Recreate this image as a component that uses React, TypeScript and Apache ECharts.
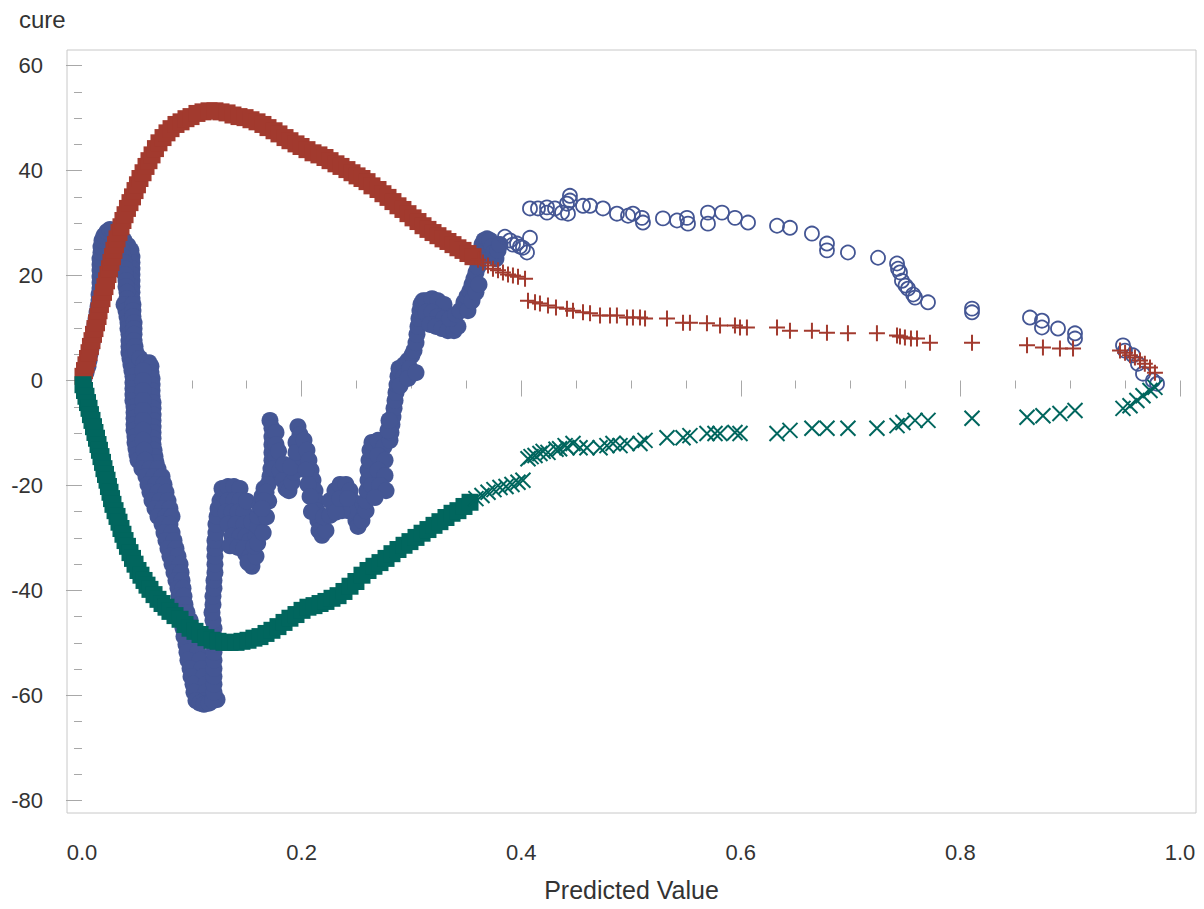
import React, { useEffect, useRef } from "react";
import * as echarts from "echarts";

// ---------- axis ticks ----------
const xMajorTicks = [0, 0.2, 0.4, 0.6, 0.8, 1.0];
const xMinorTicks = [0.05, 0.1, 0.15, 0.25, 0.3, 0.35, 0.45, 0.5, 0.55, 0.65, 0.7, 0.75, 0.85, 0.9, 0.95];
const yMajorTicks = [-80, -60, -40, -20, 0, 20, 40, 60];
const yMinorTicks = [-75, -70, -65, -55, -50, -45, -35, -30, -25, -15, -10, -5, 5, 10, 15, 25, 30, 35, 45, 50, 55];
const X_MIN = -0.01366;
const X_MAX = 1.0146;
const Y_MIN = -82.42;
const Y_MAX = 62.99;

// ---------- blue (observed cumulative residual), dense region ----------
const blueDense: number[][] = [
  [0.0018, 0.4], [0.0036, 1.5], [0.0055, 2.7], [0.0064, 3.8], [0.0073, 5.0], [0.0082, 6.1], [0.0091, 7.2],
  [0.0100, 8.4], [0.0109, 9.5], [0.0118, 10.7], [0.0128, 11.8], [0.0137, 13.0], [0.0146, 14.1], [0.0155, 15.2],
  [0.0155, 16.4], [0.0164, 17.5], [0.0164, 18.7], [0.0164, 19.8], [0.0164, 21.0], [0.0164, 22.1], [0.0164, 23.2],
  [0.0173, 24.4], [0.0173, 25.5], [0.0182, 26.7], [0.0200, 27.6], [0.0228, 28.4], [0.0255, 28.8], [0.0282, 28.6],
  [0.0310, 28.2], [0.0346, 27.4], [0.0383, 26.7], [0.0419, 25.7], [0.0446, 24.8], [0.0455, 23.6], [0.0455, 22.5],
  [0.0455, 21.3], [0.0455, 20.2], [0.0455, 19.0], [0.0455, 17.9], [0.0455, 16.8], [0.0455, 15.6],
  [0.0355, 25.9], [0.0364, 24.8], [0.0373, 23.6], [0.0383, 22.5], [0.0392, 21.3], [0.0392, 20.2], [0.0401, 19.0],
  [0.0401, 17.9], [0.0410, 16.8], [0.0410, 15.6],
  [0.0383, 14.5], [0.0401, 13.3], [0.0410, 12.2], [0.0419, 11.0], [0.0419, 9.9], [0.0428, 8.8], [0.0428, 7.6],
  [0.0428, 6.5], [0.0428, 5.3], [0.0437, 4.2], [0.0446, 3.0], [0.0455, 1.9], [0.0464, 0.8], [0.0464, -0.4],
  [0.0464, -1.5], [0.0464, -2.7], [0.0464, -3.8], [0.0474, -5.0], [0.0474, -6.1], [0.0474, -7.2], [0.0474, -8.4],
  [0.0474, -9.5], [0.0483, -10.7], [0.0483, -11.8], [0.0492, -13.0], [0.0501, -14.1], [0.0510, -15.2],
  [0.0464, 14.5], [0.0464, 13.3], [0.0464, 12.2], [0.0474, 11.0], [0.0474, 9.9], [0.0474, 8.8], [0.0474, 7.6],
  [0.0483, 6.5], [0.0492, 5.3], [0.0528, 4.2],
  [0.0565, 3.4], [0.0610, 3.4], [0.0628, 2.7], [0.0628, 1.5], [0.0638, 0.4], [0.0638, -0.8], [0.0638, -1.9],
  [0.0638, -3.0], [0.0647, -4.2], [0.0647, -5.3], [0.0647, -6.5], [0.0647, -7.6], [0.0647, -8.8], [0.0647, -9.9],
  [0.0647, -11.0], [0.0647, -12.2], [0.0656, -13.3], [0.0665, -14.5], [0.0674, -15.6],
  [0.0556, 1.9], [0.0556, 0.0], [0.0556, -1.9], [0.0556, -3.8], [0.0556, -5.7], [0.0556, -7.6], [0.0556, -9.5],
  [0.0556, -11.4], [0.0565, -13.3], [0.0574, -15.2],
  [0.0546, -16.8], [0.0619, -16.8], [0.0692, -16.8], [0.0583, -18.3], [0.0656, -18.3], [0.0729, -18.3],
  [0.0601, -19.8], [0.0674, -19.8], [0.0747, -19.8], [0.0619, -21.3], [0.0692, -21.3], [0.0765, -21.3],
  [0.0638, -22.9], [0.0710, -22.9], [0.0783, -22.9], [0.0665, -24.4], [0.0738, -24.4], [0.0801, -24.4],
  [0.0692, -25.9], [0.0765, -25.9], [0.0820, -25.9], [0.0729, -27.4], [0.0801, -27.4], [0.0747, -29.0],
  [0.0820, -29.0], [0.0765, -30.5], [0.0838, -30.5], [0.0783, -32.0], [0.0856, -32.0], [0.0801, -33.5],
  [0.0874, -33.5], [0.0820, -35.0], [0.0893, -35.0], [0.0838, -36.6], [0.0902, -36.6], [0.0856, -38.1],
  [0.0911, -38.1], [0.0874, -39.6], [0.0920, -39.6], [0.0883, -41.1], [0.0929, -41.1], [0.0893, -42.7],
  [0.0938, -42.7], [0.0902, -44.2], [0.0956, -44.2], [0.0911, -45.7], [0.0984, -45.7], [0.0920, -47.2],
  [0.1002, -47.2], [0.0929, -48.8], [0.1020, -48.8], [0.0947, -50.3], [0.1038, -50.3], [0.0956, -51.8],
  [0.1056, -51.8], [0.0965, -53.3], [0.1075, -53.3], [0.0984, -54.9], [0.1093, -54.9], [0.0993, -56.4],
  [0.1111, -56.4], [0.1011, -57.9], [0.1129, -57.9], [0.1020, -59.4], [0.1129, -59.4], [0.1038, -61.0],
  [0.1120, -61.0], [0.1075, -61.5], [0.1111, -61.7], [0.1157, -61.5], [0.1230, -60.8],
  [0.1193, -61.0], [0.1202, -59.4], [0.1202, -57.9], [0.1202, -56.4], [0.1202, -54.9], [0.1202, -53.3],
  [0.1202, -51.8], [0.1202, -50.3], [0.1202, -48.8], [0.1202, -47.2], [0.1193, -45.7], [0.1184, -44.2],
  [0.1193, -42.7], [0.1193, -41.1], [0.1202, -39.6], [0.1202, -38.1], [0.1211, -36.6], [0.1211, -35.0],
  [0.1211, -33.5], [0.1211, -32.0], [0.1211, -30.5], [0.1220, -29.0], [0.1220, -27.4], [0.1230, -25.9],
  [0.1239, -24.4], [0.1257, -22.9], [0.1284, -21.7],
  [0.1275, -20.6], [0.1330, -20.2], [0.1384, -20.2], [0.1439, -20.6], [0.1330, -22.9], [0.1384, -22.9],
  [0.1439, -22.9], [0.1311, -25.1], [0.1366, -25.1], [0.1421, -25.1], [0.1475, -25.1], [0.1330, -27.4],
  [0.1403, -27.4], [0.1475, -27.4], [0.1366, -29.7], [0.1439, -29.7], [0.1494, -29.7],
  [0.1348, -31.5], [0.1420, -31.8], [0.1490, -33.0], [0.1530, -30.5], [0.1545, -27.0], [0.1500, -23.0],
  [0.1475, -32.0], [0.1530, -33.5], [0.1548, -35.4], [0.1512, -34.7], [0.1585, -33.5], [0.1566, -31.6],
  [0.1585, -29.7], [0.1603, -27.8], [0.1603, -25.9], [0.1621, -24.0], [0.1639, -22.1], [0.1658, -20.6],
  [0.1600, -31.0], [0.1650, -29.0], [0.1680, -26.0], [0.1700, -23.0],
  [0.1712, -7.6], [0.1730, -9.1], [0.1730, -10.7], [0.1730, -12.2], [0.1730, -13.7], [0.1730, -15.2],
  [0.1721, -16.8], [0.1712, -18.3], [0.1694, -19.8], [0.1676, -21.3], [0.1658, -22.9], [0.1639, -24.4],
  [0.1767, -9.9], [0.1767, -12.2], [0.1767, -14.5], [0.1749, -16.8],
  [0.1803, -17.1], [0.1831, -19.0], [0.1858, -20.6], [0.1885, -21.0], [0.1913, -19.4], [0.1931, -17.5],
  [0.1949, -15.6], [0.1790, -13.5], [0.1840, -16.0], [0.1900, -16.5],
  [0.1967, -8.8], [0.1985, -10.3], [0.1995, -11.8], [0.2004, -13.3], [0.2013, -14.9], [0.1949, -11.8],
  [0.1949, -13.7], [0.2022, -11.4], [0.2049, -13.3], [0.2067, -15.2], [0.2086, -17.1], [0.2104, -19.0],
  [0.2122, -21.0], [0.2131, -22.9], [0.2140, -24.8], [0.2149, -26.7], [0.2158, -28.6], [0.2186, -29.5],
  [0.2222, -28.6], [0.2040, -17.1], [0.2058, -19.8], [0.2077, -22.1], [0.2090, -25.0], [0.2200, -26.0],
  [0.2259, -25.7], [0.2259, -22.9], [0.2304, -21.0], [0.2350, -19.8], [0.2404, -19.8], [0.2441, -21.0],
  [0.2459, -22.9], [0.2477, -24.8], [0.2495, -26.7], [0.2514, -27.8], [0.2423, -24.8], [0.2368, -24.8],
  [0.2313, -25.1], [0.2550, -26.7], [0.2587, -24.8], [0.2350, -22.5], [0.2420, -22.5],
  [0.2587, -22.9], [0.2596, -21.0], [0.2605, -19.0], [0.2605, -17.1], [0.2614, -15.2], [0.2623, -13.3],
  [0.2641, -11.8], [0.2696, -11.4], [0.2750, -12.6], [0.2696, -14.3], [0.2760, -15.2], [0.2696, -17.1],
  [0.2760, -18.1], [0.2641, -20.0], [0.2714, -20.0], [0.2769, -21.0], [0.2668, -22.3],
  [0.2805, -11.4], [0.2814, -9.9], [0.2823, -8.4], [0.2832, -6.9], [0.2842, -5.3], [0.2851, -3.8],
  [0.2860, -2.3], [0.2869, -0.8], [0.2878, 0.8], [0.2887, 2.3], [0.2787, -9.5], [0.2796, -7.6],
  [0.2896, 1.9], [0.2933, 3.0], [0.2969, 3.8], [0.3005, 4.8], [0.2933, 0.8], [0.2987, 2.3],
  [0.2896, -1.0], [0.2969, 0.4], [0.3042, 1.5],
  [0.3024, 5.7], [0.3042, 7.2], [0.3051, 8.8], [0.3060, 10.3], [0.3069, 11.8], [0.3078, 13.3], [0.3087, 14.5],
  [0.3106, 15.2], [0.3133, 15.2], [0.3188, 15.6], [0.3242, 15.2], [0.3297, 14.5], [0.3133, 13.0],
  [0.3188, 13.0], [0.3242, 12.2], [0.3297, 11.8], [0.3169, 10.7], [0.3224, 10.3], [0.3279, 9.9],
  [0.3333, 9.5], [0.3388, 9.5], [0.3424, 10.3], [0.3352, 11.8], [0.3406, 12.6],
  [0.3443, 13.3], [0.3479, 14.9], [0.3506, 16.0], [0.3534, 17.1], [0.3552, 18.3], [0.3570, 19.4],
  [0.3588, 20.6], [0.3607, 21.7], [0.3515, 13.3], [0.3552, 15.2], [0.3588, 16.8], [0.3616, 18.3],
  [0.3625, 23.2], [0.3634, 24.8], [0.3643, 25.9], [0.3661, 26.7], [0.3689, 27.0], [0.3716, 26.7],
  [0.3734, 25.5], [0.3752, 24.4], [0.3770, 23.2], [0.3789, 24.8], [0.3807, 25.9],
];

// ---------- blue, sparse region (hollow circles) ----------
const blueSparse: number[][] = [
  [0.3852, 27.4], [0.3898, 26.7], [0.3925, 25.9], [0.3962, 26.1], [0.3989, 25.5], [0.4016, 25.3],
  [0.4053, 24.4], [0.4080, 27.2],
  [0.4080, 32.8], [0.4153, 32.8], [0.4235, 33.0], [0.4235, 32.0], [0.4308, 32.8], [0.4372, 32.0],
  [0.4417, 33.7], [0.4444, 35.2], [0.4444, 34.3], [0.4426, 31.8], [0.4563, 33.3], [0.4627, 33.3],
  [0.4745, 32.8], [0.4872, 31.8], [0.4973, 31.4], [0.5018, 31.8], [0.5100, 31.0], [0.5109, 30.1],
  [0.5291, 30.9], [0.5419, 30.5], [0.5510, 31.0], [0.5519, 29.9], [0.5701, 32.0], [0.5701, 29.9],
  [0.5829, 32.0], [0.5947, 31.0], [0.6066, 30.1], [0.6330, 29.5], [0.6448, 29.1], [0.6648, 28.0],
  [0.6785, 26.1], [0.6785, 24.8], [0.6976, 24.4], [0.7250, 23.4], [0.7423, 22.3], [0.7432, 21.3],
  [0.7450, 20.6], [0.7468, 19.0], [0.7500, 18.1], [0.7523, 17.5], [0.7570, 16.4], [0.7587, 15.8],
  [0.7705, 14.9], [0.8106, 13.7], [0.8106, 13.0], [0.8634, 12.0], [0.8743, 11.4], [0.8743, 10.1],
  [0.8889, 9.9], [0.9044, 9.0], [0.9044, 8.0], [0.9481, 6.7], [0.9499, 5.7], [0.9572, 4.8],
  [0.9617, 3.2], [0.9663, 1.3], [0.9754, 0.0], [0.9791, -0.6],
];

// ---------- red (upper simulated path), dense region ----------
const redDense: number[][] = [
  [0.0009, 0.8], [0.0023, 1.9], [0.0036, 3.0], [0.0050, 4.2], [0.0064, 5.3], [0.0077, 6.5], [0.0091, 7.6],
  [0.0105, 8.8], [0.0118, 9.9], [0.0132, 11.0], [0.0146, 12.2], [0.0155, 13.3], [0.0168, 14.5], [0.0182, 15.6],
  [0.0196, 16.8], [0.0209, 17.9], [0.0223, 19.0], [0.0237, 20.2], [0.0250, 21.3], [0.0264, 22.5], [0.0278, 23.6],
  [0.0291, 24.8], [0.0305, 25.9], [0.0319, 27.0], [0.0337, 28.2], [0.0355, 29.3], [0.0373, 30.5], [0.0392, 31.6],
  [0.0414, 32.8], [0.0437, 33.9], [0.0460, 35.0], [0.0483, 36.2], [0.0505, 37.3], [0.0528, 38.5], [0.0556, 39.6],
  [0.0583, 40.8], [0.0610, 41.9], [0.0638, 43.0], [0.0669, 44.2], [0.0701, 45.3], [0.0738, 46.3], [0.0774, 47.2],
  [0.0811, 48.0], [0.0856, 48.8], [0.0902, 49.3], [0.0947, 49.9], [0.0993, 50.3], [0.1047, 50.9], [0.1102, 51.2],
  [0.1157, 51.4], [0.1211, 51.4], [0.1266, 51.2], [0.1321, 51.0], [0.1375, 50.6], [0.1430, 50.3], [0.1485, 50.1],
  [0.1539, 49.7], [0.1594, 49.3], [0.1648, 48.8], [0.1694, 48.2], [0.1749, 47.6], [0.1794, 47.0], [0.1849, 46.3],
  [0.1894, 45.7], [0.1949, 45.1], [0.1995, 44.6], [0.2049, 44.0], [0.2104, 43.4], [0.2158, 43.0], [0.2213, 42.5],
  [0.2259, 41.9], [0.2313, 41.3], [0.2359, 40.8], [0.2413, 40.2], [0.2459, 39.6], [0.2505, 39.0], [0.2550, 38.5],
  [0.2596, 37.9], [0.2641, 37.1], [0.2696, 36.4], [0.2741, 35.6], [0.2787, 34.9], [0.2832, 34.1], [0.2878, 33.3],
  [0.2923, 32.6], [0.2969, 31.8], [0.3015, 31.0], [0.3060, 30.3], [0.3106, 29.5], [0.3151, 28.8], [0.3197, 28.2],
  [0.3242, 27.6], [0.3288, 27.0], [0.3333, 26.5], [0.3379, 25.9], [0.3424, 25.3], [0.3470, 24.8], [0.3515, 24.2],
  [0.3561, 23.6],
];

// ---------- red, sparse region (plus markers) ----------
const redSparse: number[][] = [
  [0.3607, 23.0], [0.3652, 22.5], [0.3698, 21.9], [0.3743, 21.3], [0.3789, 21.0], [0.3834, 20.6], [0.3880, 20.2],
  [0.3925, 20.0], [0.3971, 19.8], [0.4035, 19.4], [0.4062, 15.2], [0.4126, 14.9], [0.4171, 14.7], [0.4244, 14.3],
  [0.4317, 13.9], [0.4417, 13.7], [0.4472, 13.3], [0.4563, 13.0], [0.4627, 12.8], [0.4718, 12.4], [0.4809, 12.4],
  [0.4872, 12.4], [0.4964, 12.0], [0.5018, 12.0], [0.5082, 12.0], [0.5128, 11.8], [0.5328, 11.8], [0.5474, 11.0],
  [0.5537, 11.0], [0.5692, 10.9], [0.5811, 10.5], [0.5947, 10.5], [0.5993, 10.1], [0.6056, 10.1], [0.6330, 10.1],
  [0.6448, 9.5], [0.6648, 9.5], [0.6785, 9.1], [0.6976, 9.0], [0.7240, 9.0], [0.7423, 8.6], [0.7450, 8.4],
  [0.7495, 8.2], [0.7550, 8.0], [0.7605, 8.0], [0.7723, 7.2], [0.8106, 7.2], [0.8607, 6.7], [0.8752, 6.3],
  [0.8907, 6.1], [0.9026, 6.1], [0.9454, 5.7], [0.9500, 5.3], [0.9545, 4.8], [0.9590, 4.4], [0.9636, 3.8],
  [0.9680, 3.2], [0.9727, 2.5], [0.9772, 1.5],
];

// ---------- green (lower simulated path), dense region ----------
const greenDense: number[][] = [
  [0.0009, -0.8], [0.0023, -1.9], [0.0036, -3.0], [0.0050, -4.2], [0.0064, -5.3], [0.0077, -6.5], [0.0091, -7.6],
  [0.0105, -8.8], [0.0118, -9.9], [0.0132, -11.0], [0.0146, -12.2], [0.0159, -13.3], [0.0173, -14.5],
  [0.0187, -15.6], [0.0200, -16.8], [0.0214, -17.9], [0.0228, -19.0], [0.0241, -20.2], [0.0255, -21.3],
  [0.0269, -22.5], [0.0282, -23.6], [0.0301, -24.8], [0.0319, -25.9], [0.0337, -27.0], [0.0355, -28.2],
  [0.0373, -29.3], [0.0392, -30.5], [0.0414, -31.6], [0.0437, -32.8], [0.0460, -33.9], [0.0483, -35.0],
  [0.0510, -36.2], [0.0537, -37.1], [0.0565, -38.1], [0.0592, -39.0], [0.0619, -39.8], [0.0656, -40.8],
  [0.0692, -41.7], [0.0729, -42.5], [0.0765, -43.2], [0.0801, -44.0], [0.0847, -44.8], [0.0893, -45.5],
  [0.0938, -46.5], [0.0984, -47.2], [0.1029, -47.8], [0.1075, -48.4], [0.1129, -49.0], [0.1184, -49.5],
  [0.1239, -49.7], [0.1293, -49.9], [0.1348, -49.9], [0.1403, -49.9], [0.1457, -49.7], [0.1512, -49.5],
  [0.1566, -49.1], [0.1621, -48.8], [0.1676, -48.2], [0.1730, -47.6], [0.1785, -46.9], [0.1840, -46.1],
  [0.1894, -45.3], [0.1949, -44.6], [0.2004, -43.8], [0.2058, -43.2], [0.2113, -42.9], [0.2168, -42.5],
  [0.2222, -42.1], [0.2277, -41.5], [0.2332, -41.0], [0.2386, -40.2], [0.2441, -39.2], [0.2495, -38.3],
  [0.2550, -37.1], [0.2605, -36.2], [0.2659, -35.4], [0.2714, -34.7], [0.2769, -33.9], [0.2823, -33.0],
  [0.2878, -32.2], [0.2933, -31.4], [0.2987, -30.7], [0.3042, -29.9], [0.3097, -29.1], [0.3151, -28.4],
  [0.3206, -27.6], [0.3260, -26.9], [0.3315, -26.1], [0.3370, -25.3], [0.3424, -24.8], [0.3479, -24.0],
  [0.3534, -23.2],
];

// ---------- green, sparse region (x markers) ----------
const greenSparse: number[][] = [
  [0.3588, -22.5], [0.3643, -21.9], [0.3698, -21.3], [0.3752, -20.8], [0.3807, -20.4], [0.3862, -20.2],
  [0.3916, -19.8], [0.3971, -19.4], [0.4016, -19.0], [0.4062, -14.9], [0.4090, -14.5], [0.4126, -14.3],
  [0.4171, -13.9], [0.4200, -13.5], [0.4244, -13.7], [0.4317, -13.1], [0.4350, -13.0], [0.4400, -12.4],
  [0.4417, -12.8], [0.4472, -12.0], [0.4536, -12.8], [0.4599, -12.8], [0.4718, -12.8], [0.4781, -12.4],
  [0.4836, -12.0], [0.4900, -12.4], [0.4964, -12.0], [0.5082, -12.0], [0.5128, -11.4], [0.5328, -10.9],
  [0.5474, -10.9], [0.5537, -10.5], [0.5692, -10.1], [0.5765, -10.1], [0.5811, -10.1], [0.5947, -9.9],
  [0.5993, -10.1], [0.6330, -10.1], [0.6448, -9.5], [0.6648, -9.1], [0.6785, -9.1], [0.6976, -9.1],
  [0.7240, -9.1], [0.7423, -8.6], [0.7477, -8.0], [0.7587, -7.6], [0.7705, -7.6], [0.8106, -7.2],
  [0.8607, -7.0], [0.8752, -6.7], [0.8907, -6.3], [0.9044, -5.7], [0.9481, -5.3], [0.9545, -4.8],
  [0.9608, -3.8], [0.9663, -2.9], [0.9727, -1.9], [0.9772, -1.3],
];

const BLUE = "#445694";
const RED = "#A23A2E";
const GREEN = "#01665E";
const FONT = "'Liberation Sans', Arial, Helvetica, sans-serif";
const TEXT = "#333333";
const TICK = "#a8a8a8";

export default function App() {
  const ref = useRef<HTMLDivElement>(null);

  useEffect(() => {
    if (!ref.current) return;
    const chart = echarts.init(ref.current, null, { renderer: "svg" });

    const baseX = {
      type: "value",
      min: X_MIN,
      max: X_MAX,
      position: "bottom",
      axisLine: { show: false },
      splitLine: { show: false },
    };
    const baseY = {
      type: "value",
      min: Y_MIN,
      max: Y_MAX,
      position: "left",
      axisLine: { show: false },
      splitLine: { show: false },
    };

    chart.setOption({
      animation: false,
      backgroundColor: "#ffffff",
      textStyle: { fontFamily: FONT },
      title: {
        text: "cure",
        left: 19,
        top: 7,
        padding: 0,
        textStyle: { fontSize: 24, fontWeight: "normal", color: TEXT, fontFamily: FONT },
      },
      grid: {
        left: 67,
        top: 50,
        right: 8,
        bottom: 96,
        show: true,
        borderColor: "#c8c8c8",
        borderWidth: 1,
        backgroundColor: "transparent",
      },
      xAxis: [
        {
          ...baseX,
          name: "Predicted Value",
          nameLocation: "middle",
          nameGap: 64,
          nameTextStyle: { fontSize: 25, color: TEXT, fontFamily: FONT },
          axisTick: { show: true, length: 16, customValues: xMajorTicks, lineStyle: { color: TICK, width: 1 } },
          axisLabel: {
            customValues: xMajorTicks,
            formatter: (v: number) => v.toFixed(1),
            fontSize: 22,
            color: TEXT,
            fontFamily: FONT,
            margin: 28,
          },
        },
        {
          ...baseX,
          axisTick: { show: true, length: 8, customValues: xMinorTicks, lineStyle: { color: TICK, width: 1 } },
          axisLabel: { show: false },
        },
      ],
      yAxis: [
        {
          ...baseY,
          axisTick: { show: true, length: 16, customValues: yMajorTicks, lineStyle: { color: TICK, width: 1 } },
          axisLabel: {
            customValues: yMajorTicks,
            fontSize: 22,
            color: TEXT,
            fontFamily: FONT,
            margin: 24,
          },
        },
        {
          ...baseY,
          axisTick: { show: true, length: 8, customValues: yMinorTicks, lineStyle: { color: TICK, width: 1 } },
          axisLabel: { show: false },
        },
      ],
      series: [
        {
          type: "scatter",
          name: "observed",
          data: blueDense,
          symbol: "circle",
          symbolSize: 17,
          itemStyle: { color: BLUE, opacity: 1 },
          silent: true,
        },
        {
          type: "scatter",
          name: "observed",
          data: blueSparse,
          symbol: "circle",
          symbolSize: 14,
          itemStyle: { color: "rgba(0,0,0,0)", borderColor: BLUE, borderWidth: 1.8, opacity: 1 },
          silent: true,
        },
        {
          type: "scatter",
          name: "upper",
          data: redDense,
          symbol: "rect",
          symbolSize: 17,
          itemStyle: { color: RED, opacity: 1 },
          silent: true,
        },
        {
          type: "scatter",
          name: "upper",
          data: redSparse,
          symbol: "path://M7 0L7 14M0 7L14 7",
          symbolSize: 16,
          itemStyle: { color: RED, borderColor: RED, borderWidth: 2, opacity: 1 },
          silent: true,
        },
        {
          type: "scatter",
          name: "lower",
          data: greenDense,
          symbol: "rect",
          symbolSize: 17,
          itemStyle: { color: GREEN, opacity: 1 },
          silent: true,
        },
        {
          type: "scatter",
          name: "lower",
          data: greenSparse,
          symbol: "path://M0 0L14 14M0 14L14 0",
          symbolSize: 15,
          itemStyle: { color: GREEN, borderColor: GREEN, borderWidth: 2, opacity: 1 },
          silent: true,
        },
      ],
    });

    return () => {
      chart.dispose();
    };
  }, []);

  return (
    <div
      ref={ref}
      style={{ position: "absolute", left: 0, top: 0, width: 1204, height: 909, background: "#fff" }}
    />
  );
}
